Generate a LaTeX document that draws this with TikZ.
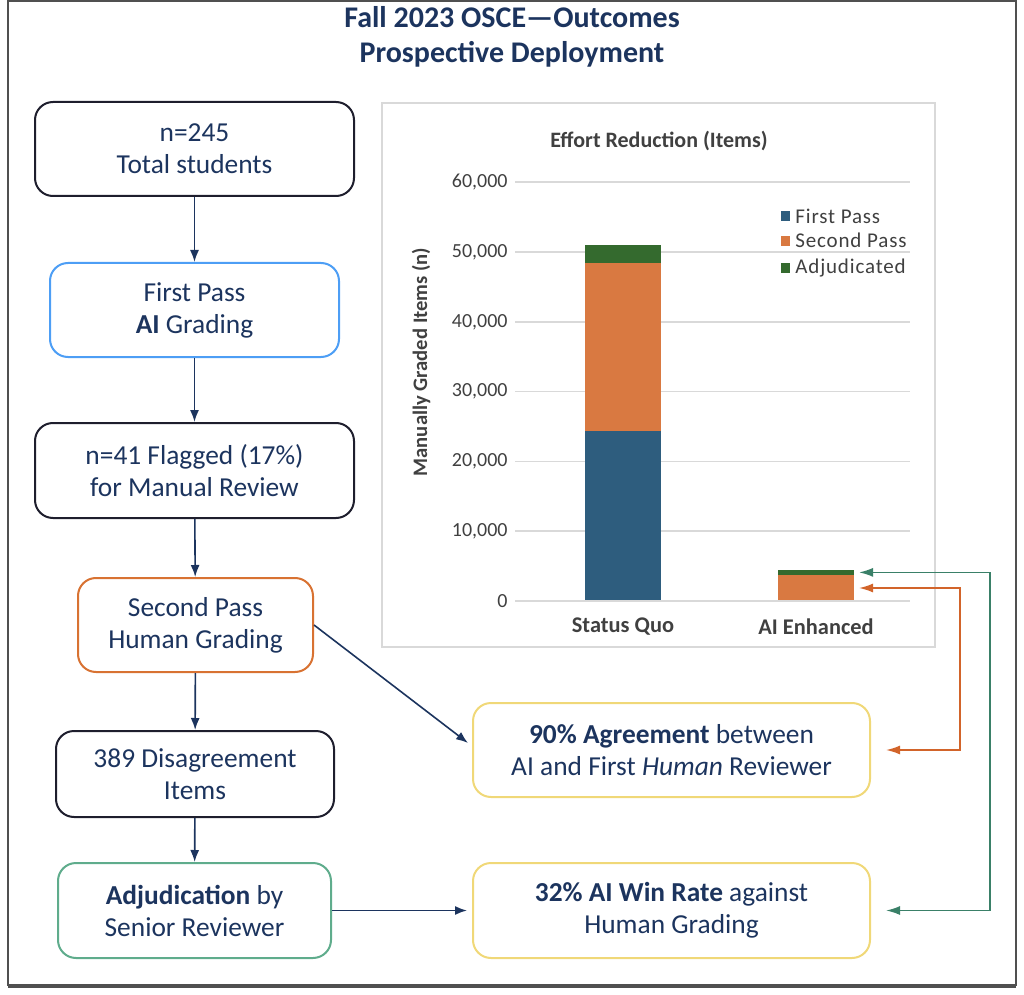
\documentclass[tikz,border=0pt]{standalone}
\usepackage{fontspec}
\setmainfont{Carlito}
\newfontfamily\legendfont[LetterSpace=4]{Carlito}
\usetikzlibrary{arrows.meta}

\definecolor{navy}{RGB}{28,52,94}
\definecolor{boxdark}{RGB}{30,30,45}
\definecolor{boxblue}{RGB}{77,158,245}
\definecolor{boxorange}{RGB}{216,114,50}
\definecolor{boxgreen}{RGB}{95,172,140}
\definecolor{boxyellow}{RGB}{240,216,120}
\definecolor{barblue}{RGB}{46,93,126}
\definecolor{barorange}{RGB}{217,121,65}
\definecolor{bargreen}{RGB}{52,106,46}
\definecolor{fbgreen}{RGB}{58,128,104}
\definecolor{fborange}{RGB}{210,100,42}
\definecolor{chartgray}{RGB}{217,217,217}
\definecolor{labgray}{RGB}{64,64,64}
\definecolor{framegray}{RGB}{80,80,80}

\begin{document}
\begin{tikzpicture}[x=0.5pt,y=-0.5pt,
  flowbox/.style={draw,rounded corners=9pt,line width=1pt,align=center,text=navy,
    font=\fontsize{13.7}{16}\selectfont,inner sep=0pt},
  flowarrow/.style={draw=navy,line width=0.8pt,-{Latex[length=6pt,width=4.5pt]}},
  fbarrow/.style={line width=0.8pt,{Latex[length=7pt,width=4.5pt]}-{Latex[length=7pt,width=4.5pt]}},
  gridline/.style={draw=chartgray,line width=0.8pt},
  ticklab/.style={text=labgray,font=\fontsize{10}{11}\selectfont,anchor=east,inner sep=0pt},
  catlab/.style={text=labgray,font=\fontsize{11.2}{12}\selectfont\bfseries,inner sep=0pt},
  leglab/.style={text=labgray,font=\fontsize{10.5}{11}\legendfont,anchor=west,inner sep=0pt}]
\newcommand{\yzero}{601}
\newcommand{\ystep}{69.8}
\newcommand{\kstep}{6.98}
\useasboundingbox (0,0) rectangle (1024,995);
\draw [framegray,line width=1pt] (8,1) rectangle (1016,985);
\draw [framegray,line width=1.5pt] (8,986) -- (1016,986);

\node [text=navy,align=center,font=\fontsize{15}{17.5}\selectfont\bfseries] (title) at (512,36.5)
  {Fall 2023 OSCE---Outcomes\\Prospective Deployment};

% flow boxes
\node [flowbox,draw=boxdark,minimum width=159.5pt,minimum height=47pt] (total) at (194.5,149) {n=245\\Total students};
\node [flowbox,draw=boxblue,minimum width=144.5pt,minimum height=47pt] (first) at (194.5,310) {First Pass\\\textbf{AI} Grading};
\node [flowbox,draw=boxdark,minimum width=159.5pt,minimum height=47.5pt] (flagged) at (194.5,470.5) {n=41 Flagged (17\%)\\for Manual Review};
\node [flowbox,draw=boxorange,minimum width=117.5pt,minimum height=47pt] (second) at (195.5,625) {Second Pass\\Human Grading};
\node [flowbox,draw=boxdark,minimum width=139pt,minimum height=43pt] (disagree) at (195,774) {389 Disagreement\\Items};
\node [flowbox,draw=boxgreen,minimum width=136.5pt,minimum height=47.5pt] (adjud) at (194.5,910.5) {\textbf{Adjudication} by\\Senior Reviewer};
\node [flowbox,draw=boxyellow,minimum width=198.5pt,minimum height=47pt] (agree) at (671.5,750) {\textbf{90\% Agreement} between\\AI and First \textit{Human} Reviewer};
\node [flowbox,draw=boxyellow,minimum width=198.5pt,minimum height=47.5pt] (winrate) at (671.5,910.5) {\textbf{32\% AI Win Rate} against\\Human Grading};

\draw [flowarrow] (total) -- (first);
\draw [flowarrow] (first) -- (flagged);
\draw [flowarrow] (flagged) -- (second);
\draw [flowarrow] (second) -- (disagree);
\draw [flowarrow] (disagree) -- (adjud);
\draw [flowarrow] (second.east) -- ([xshift=-2pt,yshift=3.5pt]agree.west);
\draw [flowarrow] (adjud.east) -- ([xshift=-2.5pt]winrate.west);

% chart
\draw [chartgray,line width=1pt] (382,103) rectangle (935,647);
\node [text=labgray,font=\fontsize{11}{12}\selectfont\bfseries] (charttitle) at (659,141) {Effort Reduction (Items)};
\foreach \v/\lab in {1/{10,000},2/{20,000},3/{30,000},4/{40,000},5/{50,000},6/{60,000}} {
  \draw [gridline] (515,{\yzero-\v*\ystep}) -- (910,{\yzero-\v*\ystep});
  \node [ticklab] (tick\v) at (508,{\yzero-\v*\ystep}) {\lab};
}
\node [ticklab] (tick0) at (508,\yzero) {0};
\node [text=labgray,font=\fontsize{10.3}{11}\selectfont\bfseries,rotate=90] (ylab) at (421,362) {Manually Graded Items (n)};

\fill [barblue] (585,\yzero) rectangle (661,{\yzero-24.4*\kstep});
\fill [barorange] (585,{\yzero-24.4*\kstep}) rectangle (661,{\yzero-48.4*\kstep});
\fill [bargreen] (585,{\yzero-48.4*\kstep}) rectangle (661,{\yzero-51*\kstep});
\fill [barorange] (778,\yzero) rectangle (854,{\yzero-3.7*\kstep});
\fill [bargreen] (778,{\yzero-3.7*\kstep}) rectangle (854,{\yzero-4.5*\kstep});
\draw [chartgray,line width=1.2pt] (515,\yzero) -- (910,\yzero);
\coordinate (aiadj) at (859,{\yzero-4.1*\kstep});
\coordinate (aisec) at (859,588);

\node [catlab] (quo) at (623,627) {Status Quo};
\node [catlab] (enh) at (816,627) {AI Enhanced};

\fill [barblue] (781,211) rectangle (790,221);
\node [leglab] (legfirst) at (795,216) {First Pass};
\fill [barorange] (781,236) rectangle (790,246);
\node [leglab] (legsecond) at (795,240) {Second Pass};
\fill [bargreen] (781,263) rectangle (790,273);
\node [leglab] (legadj) at (795,268) {Adjudicated};

% feedback
\coordinate (gturn) at (990,{\yzero-4.1*\kstep});
\coordinate (oturn) at (960,588);
\draw [fbarrow,fbgreen] (aiadj) -- (gturn) |- ([xshift=7.5pt]winrate.east);
\draw [fbarrow,fborange] (aisec) -- (oturn) |- ([xshift=7.5pt]agree.east);
\end{tikzpicture}
\end{document}
